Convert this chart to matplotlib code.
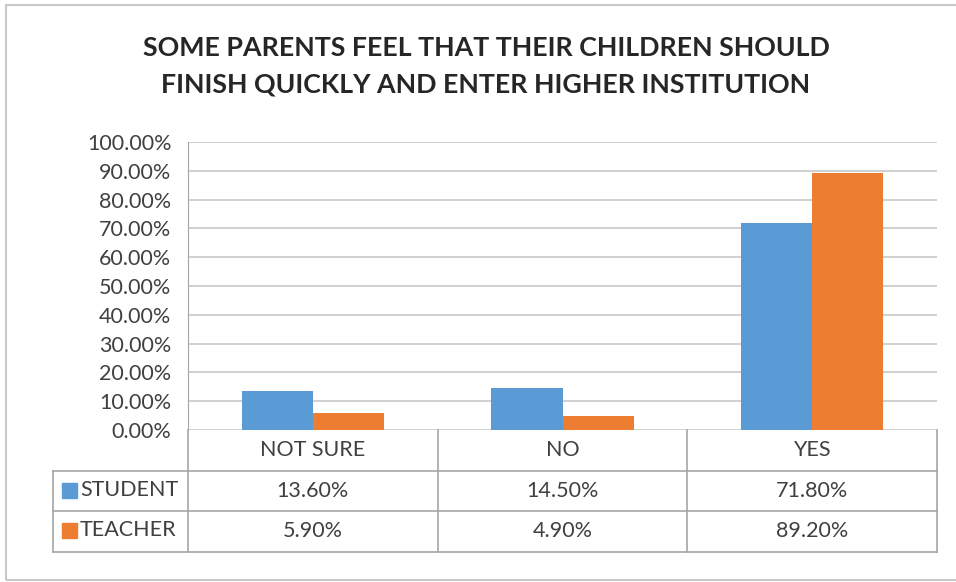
import matplotlib.pyplot as plt
from matplotlib.transforms import blended_transform_factory
from matplotlib.patches import Rectangle
import numpy as np

categories = ['NOT SURE', 'NO', 'YES']
series_names = ['STUDENT', 'TEACHER']
student = [13.6, 14.5, 71.8]
teacher = [5.9, 4.9, 89.2]
yticks = np.arange(0, 101, 10)

BLUE = '#5B9BD5'
ORANGE = '#ED7D31'
GRID = '#D0D0D0'
EDGE = '#A6A6A6'
TXT = '#404040'
FONT = 'Lato'
FS = 15.5

W, H = 956, 582
fig = plt.figure(figsize=(W / 100, H / 100), dpi=100)
fig.patch.set_facecolor('white')

# outer chart border
fig.patches.append(Rectangle((6 / W, 1 - 580 / H), 1.2, (575) / H,
                             transform=fig.transFigure, fill=False,
                             edgecolor='#C8C8C8', lw=1.5))

left, right, top, bottom = 188, 937, 142, 430
ax = fig.add_axes([left / W, 1 - bottom / H, (right - left) / W, (bottom - top) / H])

x = np.arange(len(categories))
bw = 0.285
ax.bar(x - bw / 2, student, bw, color=BLUE, zorder=3)
ax.bar(x + bw / 2, teacher, bw, color=ORANGE, zorder=3)

ax.set_xlim(-0.5, len(categories) - 0.5)
ax.set_ylim(0, 100)
ax.set_yticks(yticks)
ax.set_yticklabels([f'{v:.2f}%' for v in yticks], fontsize=FS, color=TXT, family=FONT)
ax.tick_params(axis='y', length=0, pad=12)
ax.set_xticks([])
ax.grid(axis='y', color=GRID, lw=1.4, zorder=0)
for s in ['top', 'right', 'bottom']:
    ax.spines[s].set_visible(False)
ax.spines['left'].set_color(EDGE)

# data table below the plot
tr = blended_transform_factory(ax.transData, ax.transAxes)
ph = bottom - top
row = 40.5 / ph
edges = np.arange(len(categories) + 1) - 0.5
lx = -0.5 - (left - 53) / ((right - left) / len(categories))
kw = dict(transform=tr, color=EDGE, lw=1.2, clip_on=False)

# horizontal lines
ax.plot([lx, edges[-1]], [-row, -row], **kw)
ax.plot([lx, edges[-1]], [-2 * row, -2 * row], **kw)
ax.plot([lx, edges[-1]], [-3 * row, -3 * row], **kw)
# vertical lines
for e in edges:
    ax.plot([e, e], [0, -3 * row], **kw)
ax.plot([lx, lx], [-row, -3 * row], **kw)

for i, c in enumerate(categories):
    ax.text(i, -0.5 * row, c, transform=tr, ha='center', va='center',
            fontsize=FS, color=TXT, family=FONT)

for r, (name, vals, col) in enumerate(zip(series_names, [student, teacher], [BLUE, ORANGE])):
    yc = -(1.5 + r) * row
    for i, v in enumerate(vals):
        ax.text(i, yc, f'{v:.2f}%', transform=tr, ha='center', va='center',
                fontsize=FS, color=TXT, family=FONT)
    cy = 490 + 40.5 * r
    fig.patches.append(Rectangle((62 / W, 1 - (cy + 7.5) / H), 15 / W, 15 / H,
                                 transform=fig.transFigure, color=col))
    fig.text(80 / W, 1 - cy / H, name, ha='left', va='center',
             fontsize=FS, color=TXT, family=FONT)

fig.text(486 / W, 1 - 66 / H,
         'SOME PARENTS FEEL THAT THEIR CHILDREN SHOULD\nFINISH QUICKLY AND ENTER HIGHER INSTITUTION',
         ha='center', va='center', fontsize=19.3, fontweight='bold', color='#262626',
         family=FONT, linespacing=1.6)

fig.savefig('out.png', dpi=100)
